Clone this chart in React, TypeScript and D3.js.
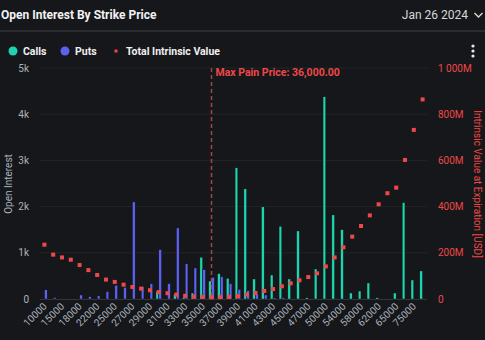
import React from "react";
import * as d3 from "d3";

const strikes: string[] = [
  "10000","12000","15000","16000","18000","20000","22000","24000","25000","26000",
  "27000","28000","29000","30000","31000","32000","33000","34000","35000","36000",
  "37000","38000","39000","40000","41000","42000","43000","44000","45000","46000",
  "47000","48000","50000","52000","54000","56000","58000","60000","62000","64000",
  "65000","70000","75000","80000",
];
const calls: number[] = [
  0,0,0,0,0,0,0,0,0,0,
  0,0,0,167,0,100,37,130,904,390,
  549,448,2839,2384,433,1994,520,1575,433,1473,
  28,650,4377,1820,1502,130,173,347,28,0,
  130,2087,411,607,
];
const puts: number[] = [
  200,35,0,0,87,50,72,160,297,253,
  2102,267,332,1068,332,1539,765,672,635,470,
  484,332,210,180,101,87,28,28,0,0,
  0,0,0,0,0,0,0,0,0,0,
  0,0,0,0,
];
const intrinsicM: number[] = [
  235,192,180,170,147,125,104,84,74,62,
  52,45,38,30,25,19,14,10,9,7,
  8,9,12,19,26,35,43,55,68,81,
  95,111,141,180,224,270,316,362,410,458,
  482,602,732,864,
];
const leftTicks: number[] = [0, 1000, 2000, 3000, 4000, 5000];
const leftTickLabels: string[] = ["0", "1k", "2k", "3k", "4k", "5k"];
const rightTicks: number[] = [0, 200, 400, 600, 800, 1000];
const rightTickLabels: string[] = ["0", "200M", "400M", "600M", "800M", "1 000M"];
const maxPainStrike = "36000";
const maxPainLabel = "Max Pain Price: 36,000.00";
const title = "Open Interest By Strike Price";
const dateLabel = "Jan 26 2024";

const BG = "#16171a";
const CALL = "#1fd3ae";
const PUT = "#5a62ee";
const RED = "#ee4848";
const AXIS_TXT = "#aab3bd";
const FONT = "Roboto, 'Noto Sans', sans-serif";

export default function App() {
  const left = 40, right = 427, top = 68, bottom = 299;
  const x = d3.scaleBand<string>().domain(strikes).range([left, right]).paddingInner(0.36).paddingOuter(0.18);
  const sub = d3.scaleBand<string>().domain(["calls", "puts"]).range([0, x.bandwidth()]).paddingInner(0.05);
  const y = d3.scaleLinear().domain([0, 5000]).range([bottom, top]);
  const yR = d3.scaleLinear().domain([0, 1000]).range([bottom, top]);
  const cx = (s: string) => (x(s) as number) + x.bandwidth() / 2;
  const mpX = cx(maxPainStrike);

  return (
    <svg width={485} height={340} style={{ position: "absolute", left: 0, top: 0, background: BG, fontFamily: FONT }}>
      <rect x={0} y={0} width={485} height={340} fill={BG} />
      <text x={1} y={19} fill="#f2f2f2" fontSize={12} fontWeight={700}>{title}</text>
      <text x={468} y={19} fill="#d8d8d8" fontSize={12} textAnchor="end">{dateLabel}</text>
      <path d="M474.5,13 L478.5,17 L482.5,13" stroke="#d8d8d8" strokeWidth={1.4} fill="none" />
      <rect x={0} y={30} width={485} height={2} fill="#2a2b2f" />

      {/* legend */}
      <circle cx={13} cy={51} r={4.5} fill={CALL} />
      <text x={23} y={54.5} fill="#f0f0f0" fontSize={10.5} fontWeight={700}>Calls</text>
      <circle cx={65} cy={51} r={4.5} fill={PUT} />
      <text x={75} y={54.5} fill="#f0f0f0" fontSize={10.5} fontWeight={700}>Puts</text>
      <rect x={114.5} y={49.5} width={3} height={3} fill={RED} />
      <text x={126} y={54.5} fill="#f0f0f0" fontSize={10.5} fontWeight={700}>Total Intrinsic Value</text>
      {[46, 51, 56].map((cy) => (
        <circle key={cy} cx={473} cy={cy} r={1.6} fill="#e8e8e8" />
      ))}

      {/* grid */}
      {leftTicks.filter((t) => t > 0).map((t) => (
        <line key={t} x1={left} x2={right} y1={y(t)} y2={y(t)} stroke="#232428" strokeWidth={1} />
      ))}
      <line x1={left} x2={right} y1={bottom + 0.5} y2={bottom + 0.5} stroke="#34353a" strokeWidth={1} />

      {/* left axis */}
      {leftTicks.map((t, i) => (
        <text key={t} x={29} y={y(t) + 3.5} fill={AXIS_TXT} fontSize={10} textAnchor="end">{leftTickLabels[i]}</text>
      ))}
      <text transform={`translate(12,184) rotate(-90)`} fill={AXIS_TXT} fontSize={10} textAnchor="middle">Open Interest</text>

      {/* right axis */}
      {rightTicks.map((t, i) => (
        <text key={t} x={438} y={yR(t) + 3.5} fill={RED} fontSize={10}>{rightTickLabels[i]}</text>
      ))}
      <text transform={`translate(474,184) rotate(90)`} fill={RED} fontSize={10} textAnchor="middle">Intrinsic Value at Expiration [USD]</text>

      {/* x axis labels */}
      {strikes.map((s, i) =>
        i % 2 === 0 ? (
          <text key={s} transform={`translate(${cx(s) + 3},${307}) rotate(-45)`} fill={AXIS_TXT} fontSize={10} textAnchor="end">{s}</text>
        ) : null
      )}

      {/* bars */}
      {strikes.map((s, i) => (
        <g key={s}>
          {calls[i] > 0 && (
            <rect x={(x(s) as number) + (sub("calls") as number)} y={y(calls[i])} width={sub.bandwidth()} height={bottom - y(calls[i])} fill={CALL} stroke="#0b0c0e" strokeWidth={0.4} />
          )}
          {puts[i] > 0 && (
            <rect x={(x(s) as number) + (sub("puts") as number)} y={y(puts[i])} width={sub.bandwidth()} height={bottom - y(puts[i])} fill={PUT} stroke="#0b0c0e" strokeWidth={0.4} />
          )}
        </g>
      ))}

      {/* max pain */}
      <line x1={mpX} x2={mpX} y1={top} y2={bottom} stroke="#a4444a" strokeWidth={1.5} strokeDasharray="4,3" />
      <text x={mpX + 4} y={76} fill={RED} fontSize={10.5} fontWeight={700}>{maxPainLabel}</text>

      {/* intrinsic dots */}
      {strikes.map((s, i) => (
        <rect key={s} x={cx(s) - 2} y={yR(intrinsicM[i]) - 2} width={4} height={4} fill={RED} />
      ))}
    </svg>
  );
}
